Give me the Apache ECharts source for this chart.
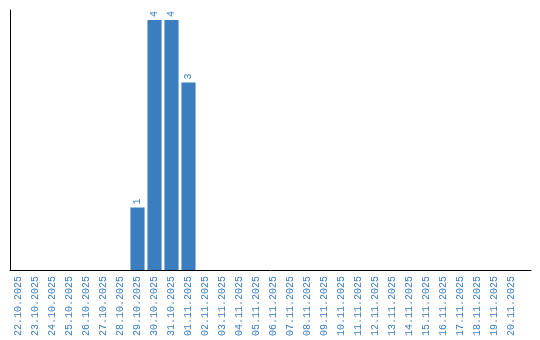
<!DOCTYPE html>
<html><head><meta charset="utf-8">
<script src="https://cdn.jsdelivr.net/npm/echarts@6/dist/echarts.min.js"></script>
<style>html,body{margin:0;padding:0;background:#fff}#c{width:540px;height:340px}</style>
</head><body><div id="c"></div>
<script>
const categories = ["22.10.2025","23.10.2025","24.10.2025","25.10.2025","26.10.2025","27.10.2025","28.10.2025","29.10.2025","30.10.2025","31.10.2025","01.11.2025","02.11.2025","03.11.2025","04.11.2025","05.11.2025","06.11.2025","07.11.2025","08.11.2025","09.11.2025","10.11.2025","11.11.2025","12.11.2025","13.11.2025","14.11.2025","15.11.2025","16.11.2025","17.11.2025","18.11.2025","19.11.2025","20.11.2025"];
const values = [null,null,null,null,null,null,null,1,4,4,3,null,null,null,null,null,null,null,null,null,null,null,null,null,null,null,null,null,null,null];
const chart = echarts.init(document.getElementById('c'));
chart.setOption({
  animation:false,
  grid:[{left:10,right:9,top:10,bottom:70},{left:10,right:20,top:10,bottom:70}],
  xAxis:[
    {gridIndex:0,type:'value',min:0,max:1,axisLine:{show:true,onZero:false,lineStyle:{color:'#000',width:1}},
     axisTick:{show:false},axisLabel:{show:false},splitLine:{show:false}},
    {gridIndex:1,type:'category',data:categories,
    axisLine:{show:false},
    axisTick:{show:false},
    axisLabel:{rotate:90,interval:0,color:'#3a7dc0',fontFamily:'Liberation Mono',fontSize:10,margin:6}}],
  yAxis:[
    {gridIndex:0,type:'value',min:0,max:1,
    axisLine:{show:true,lineStyle:{color:'#000',width:1}},
    axisTick:{show:false},axisLabel:{show:false},splitLine:{show:false}},
    {gridIndex:1,type:'value',min:0,max:4.16,
    axisLine:{show:false},axisTick:{show:false},axisLabel:{show:false},splitLine:{show:false}}],
  series:[{type:'bar',xAxisIndex:1,yAxisIndex:1,data:values,barCategoryGap:'17%',
    itemStyle:{color:'#3a7ebf'},
    label:{show:true,position:'top',rotate:90,align:'left',verticalAlign:'middle',distance:3,
      color:'#3a7dc0',fontFamily:'Liberation Mono',fontSize:10}}]
});
</script></body></html>
